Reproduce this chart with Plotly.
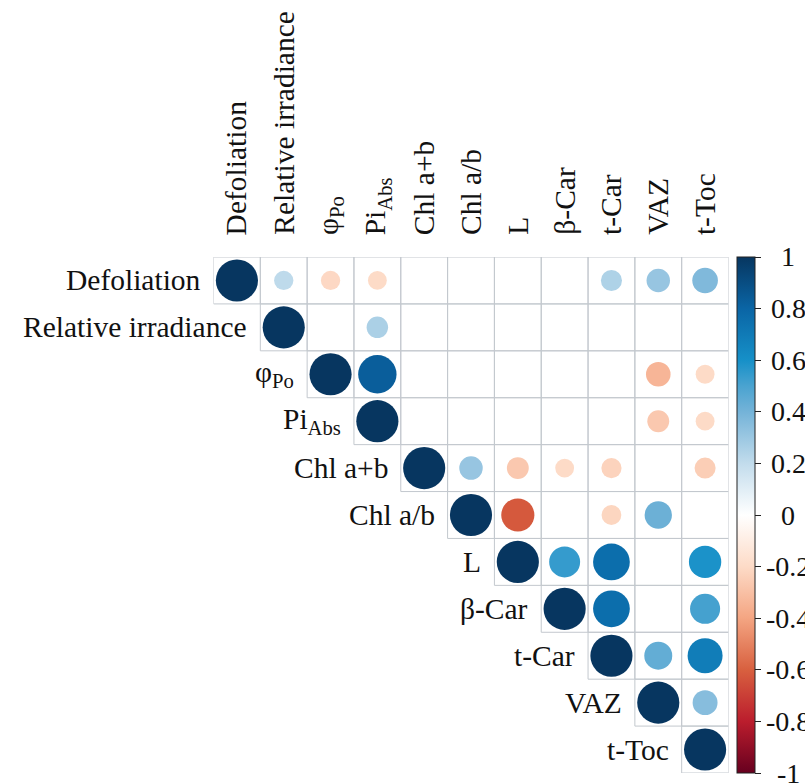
import math
import plotly.graph_objects as go

# ---------------- data ----------------
labels = ["Defoliation", "Relative irradiance", "φ<sub>Po</sub>", "Pi<sub>Abs</sub>",
          "Chl a+b", "Chl a/b", "L", "β-Car", "t-Car", "VAZ", "t-Toc"]

# upper-triangle correlation rows, starting at the diagonal (None = blank / not significant)
row_defoliation = [1, 0.21, -0.21, -0.20, None, None, None, None, 0.25, 0.31, 0.37]
row_rel_irr     = [1, None, 0.26, None, None, None, None, None, None, None]
row_phi_po      = [1, 0.83, None, None, None, None, None, -0.34, -0.20]
row_pi_abs      = [1, None, None, None, None, None, -0.27, -0.20]
row_chl_ab      = [1, 0.31, -0.27, -0.20, -0.23, None, -0.25]
row_chl_ratio   = [1, -0.62, None, -0.22, 0.42, None]
row_l           = [1, 0.54, 0.76, None, 0.59]
row_bcar        = [1, 0.76, None, 0.51]
row_tcar        = [1, 0.44, 0.69]
row_vaz         = [1, 0.35]
row_ttoc        = [1]

cbar_ticks = [1, 0.8, 0.6, 0.4, 0.2, 0, -0.2, -0.4, -0.6, -0.8, -1]
cbar_ticklabels = ["1", "0.8", "0.6", "0.4", "0.2", "0", "-0.2", "-0.4", "-0.6", "-0.8", "-1"]

rows = [row_defoliation, row_rel_irr, row_phi_po, row_pi_abs, row_chl_ab, row_chl_ratio,
        row_l, row_bcar, row_tcar, row_vaz, row_ttoc]

# ---------------- style ----------------
W, H = 805, 783
GX0, GX1 = 213.5, 728.5      # grid px (left/right)
GY0, GY1 = 257.0, 773.0      # grid px (top/bottom)
n = len(labels)
cell_px = (GX1 - GX0) / n
FONT = "Liberation Serif, Times New Roman, serif"

colorscale = [
    [0.00, "#67001F"],
    [0.10, "#BB1D2D"],
    [0.20, "#D8603F"],
    [0.30, "#F4A582"],
    [0.40, "#FDDBC7"],
    [0.50, "#FFFFFF"],
    [0.60, "#C2DCEC"],
    [0.70, "#74B3D8"],
    [0.75, "#4AA3D0"],
    [0.80, "#1690C8"],
    [0.90, "#0A65A5"],
    [1.00, "#073660"],
]

xs, ys, vals, sizes = [], [], [], []
for i, row in enumerate(rows):
    for k, v in enumerate(row):
        j = i + k
        if v is None:
            continue
        xs.append(j)
        ys.append(i)
        vals.append(v)
        sizes.append(0.9 * cell_px * math.sqrt(abs(v)))

fig = go.Figure()

# cell borders (upper triangle)
for i in range(n):
    for j in range(i, n):
        fig.add_shape(type="rect", xref="x", yref="y",
                      x0=j - 0.5, x1=j + 0.5, y0=i - 0.5, y1=i + 0.5,
                      line=dict(color="#C3C8CE", width=1), fillcolor="rgba(0,0,0,0)",
                      layer="below")

cb_len = (GY1 - GY0) / H
cb_top = 1 - GY0 / H
fig.add_trace(go.Scatter(
    x=xs, y=ys, mode="markers", hoverinfo="skip",
    marker=dict(size=sizes, color=vals, colorscale=colorscale, cmin=-1, cmax=1,
                line=dict(width=0), opacity=1,
                showscale=True,
                colorbar=dict(x=737 / W, xanchor="left", xpad=0,
                              y=cb_top, yanchor="top", ypad=0,
                              len=cb_len, lenmode="fraction",
                              thickness=18, thicknessmode="pixels",
                              outlinewidth=1, outlinecolor="#222",
                              ticks="outside", ticklen=6, tickcolor="#222",
                              tickvals=cbar_ticks, showticklabels=False,
                              title=dict(text=""))),
    showlegend=False))

annotations = []
# row labels left of diagonal
for i, lab in enumerate(labels):
    annotations.append(dict(x=i - 0.5, y=i, xref="x", yref="y", text=lab,
                            xanchor="right", yanchor="middle", xshift=-11,
                            showarrow=False, font=dict(family=FONT, size=29.5, color="#111")))
# column labels on top
for j, lab in enumerate(labels):
    annotations.append(dict(x=j, y=-0.5, xref="x", yref="y", text=lab, textangle=-90,
                            xanchor="center", yanchor="bottom", yshift=20,
                            showarrow=False, font=dict(family=FONT, size=29.5, color="#111")))
# colorbar tick labels
cb_bottom = cb_top - cb_len
for v, t in zip(cbar_ticks, cbar_ticklabels):
    yp = cb_bottom + (v + 1) / 2 * cb_len
    annotations.append(dict(x=788 / W, y=yp, xref="paper", yref="paper", text=t,
                            xanchor="center", yanchor="middle", showarrow=False,
                            font=dict(family=FONT, size=28, color="#111")))

fig.update_layout(
    width=W, height=H,
    margin=dict(l=0, r=0, t=0, b=0),
    paper_bgcolor="white", plot_bgcolor="white",
    xaxis=dict(domain=[GX0 / W, GX1 / W], range=[-0.5, n - 0.5], visible=False,
               showgrid=False, zeroline=False, fixedrange=True),
    yaxis=dict(domain=[1 - GY1 / H, 1 - GY0 / H], range=[n - 0.5, -0.5], visible=False,
               showgrid=False, zeroline=False, fixedrange=True),
    annotations=annotations,
    showlegend=False,
)

fig.write_html("out.html", config={"displayModeBar": False},
               post_script="document.body.style.margin='0';document.body.style.overflow='hidden';")
